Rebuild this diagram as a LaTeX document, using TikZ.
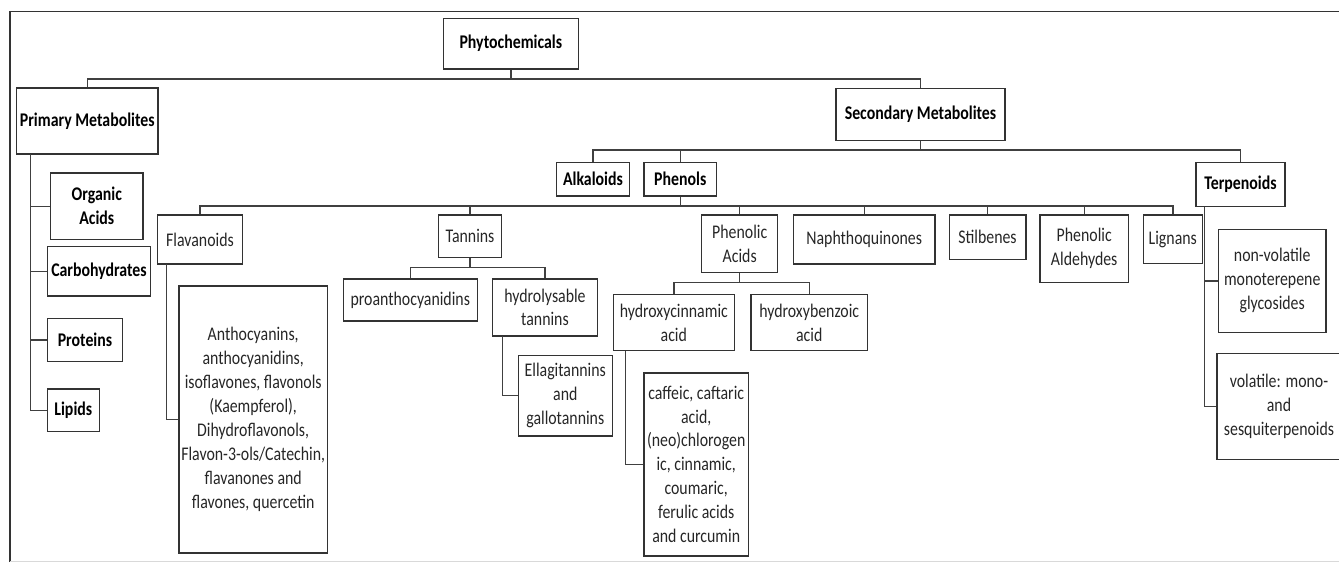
\documentclass[tikz,border=0pt]{standalone}
\usepackage{fontspec}
\setmainfont{Carlito}[FakeStretch=0.82]
\tikzset{
  box/.style={draw=black!80,line width=0.9pt,rectangle,align=center,inner sep=0pt,text=black!85,font=\fontsize{11}{13.6}\selectfont},
  bbox/.style={box,text=black,font=\fontsize{11}{13.6}\selectfont\bfseries},
  sz/.style 2 args={minimum width=#1*0.02cm,minimum height=#2*0.02cm},
  link/.style={draw=black!75,line width=0.8pt}}
\begin{document}
\begin{tikzpicture}[x=0.02cm,y=-0.02cm]
	\useasboundingbox (0,0) rectangle (1339,562);
	\draw[black!80,line width=0.7pt] (10,562) -- (10,11.7) -- (1339,11.7);
	\draw[black!15,line width=0.5pt] (10,561) -- (1339,561);

	\node[bbox,sz={135}{50.7}] (phyto) at (510.8,43.7) {Phytochemicals};
	\node[bbox,sz={141.3}{66}] (prim) at (87.3,121) {Primary Metabolites};
	\node[bbox,sz={169}{52.4}] (sec) at (920.5,114.5) {Secondary Metabolites};

	\node[bbox,sz={92.3}{66.3}] (orgac) at (96.8,206.2) {Organic\\Acids};
	\node[bbox,sz={103.4}{49.3}] (carb) at (99,271.3) {Carbohydrates};
	\node[bbox,sz={75.4}{43.4}] (prot) at (85,340) {Proteins};
	\node[bbox,sz={52}{42.7}] (lipid) at (73.3,410.3) {Lipids};

	\node[bbox,sz={72.6}{33.7}] (alk) at (593,179.2) {Alkaloids};
	\node[bbox,sz={72.7}{33.7}] (phen) at (680.3,179.2) {Phenols};
	\node[bbox,sz={89}{44.4}] (terp) at (1240.5,184.5) {Terpenoids};

	\node[box,sz={85.4}{49}] (flav) at (200,239.5) {Flavanoids};
	\node[box,sz={63.4}{42.3}] (tann) at (470,236.2) {Tannins};
	\node[box,sz={76}{57.3}] (phac) at (739.7,243.7) {Phenolic\\Acids};
	\node[box,sz={141.7}{49}] (naph) at (864.2,239.5) {Naphthoquinones};
	\node[box,sz={76.4}{44.3}] (stil) at (987.5,237.2) {Stilbenes};
	\node[box,sz={88.3}{67.3}] (phald) at (1084.2,248.7) {Phenolic\\Aldehydes};
	\node[box,sz={59}{48.3}] (lign) at (1172.8,239.2) {Lignans};

	\node[box,sz={148.3}{266.7}] (flavsub) at (253.2,419.4) {Anthocyanins,\\anthocyanidins,\\isoflavones, flavonols\\(Kaempferol),\\Dihydroflavonols,\\Flavon-3-ols/Catechin,\\flavanones and\\flavones, quercetin};
	\node[box,sz={134}{41.7}] (proan) at (410.3,299.9) {proanthocyanidins};
	\node[box,sz={104.6}{56.7}] (hydt) at (545,307.4) {hydrolysable\\tannins};
	\node[box,sz={94}{80}] (ella) at (565.3,395.7) {Ellagitannins\\and\\gallotannins};
	\node[box,sz={121}{56.4}] (hcin) at (673.8,322.5) {hydroxycinnamic\\acid};
	\node[box,sz={116.3}{56.4}] (hben) at (809.2,322.5) {hydroxybenzoic\\acid};
	\node[box,sz={104.3}{183}] (caff) at (696.2,464.2) {caffeic, caftaric\\acid,\\(neo)chlorogen\\ic, cinnamic,\\coumaric,\\ferulic acids\\and curcumin};
	\node[box,sz={107.7}{103}] (nonvol) at (1272.2,280.8) {non-volatile\\monoterepene\\glycosides};
	\node[box,sz={124}{106}] (vol) at (1279,406.3) {volatile: mono-\\and\\sesquiterpenoids};

	\coordinate (b0) at (510.8,79);
	\coordinate (b1) at (920.5,150);
	\coordinate (b2) at (680.3,206);
	\coordinate (b3) at (470,267.3);
	\coordinate (b4) at (739.7,282.3);
	\coordinate (pv) at (30.7,154);
	\coordinate (fv) at (166.7,264);
	\coordinate (tv) at (502.7,335.7);
	\coordinate (cv) at (625.7,350.7);
	\coordinate (rv) at (1204.3,206.7);

	\draw[link] (phyto.south) -- (b0);
	\draw[link] (prim.north) |- (b0) -| (sec.north);
	\draw[link] (pv) |- (lipid.west);
	\draw[link] (pv |- orgac.west) -- (orgac.west);
	\draw[link] (pv |- carb.west) -- (carb.west);
	\draw[link] (pv |- prot.west) -- (prot.west);

	\draw[link] (sec.south) -- (b1);
	\draw[link] (alk.north) |- (b1) -| (terp.north);
	\draw[link] (phen.north) -- (phen.north |- b1);

	\draw[link] (phen.south) -- (b2);
	\draw[link] (flav.north) |- (b2) -| (lign.north);
	\draw[link] (tann.north) -- (tann.north |- b2);
	\draw[link] (phac.north) -- (phac.north |- b2);
	\draw[link] (naph.north) -- (naph.north |- b2);
	\draw[link] (stil.north) -- (stil.north |- b2);
	\draw[link] (phald.north) -- (phald.north |- b2);

	\draw[link] (fv) |- (flavsub.west);
	\draw[link] (tann.south) -- (b3);
	\draw[link] (proan.north) |- (b3) -| (hydt.north);
	\draw[link] (tv) |- (ella.west);
	\draw[link] (phac.south) -- (b4);
	\draw[link] (hcin.north) |- (b4) -| (hben.north);
	\draw[link] (cv) |- (caff.west);
	\draw[link] (rv) |- (vol.west);
	\draw[link] (rv |- nonvol.west) -- (nonvol.west);
\end{tikzpicture}
\end{document}
